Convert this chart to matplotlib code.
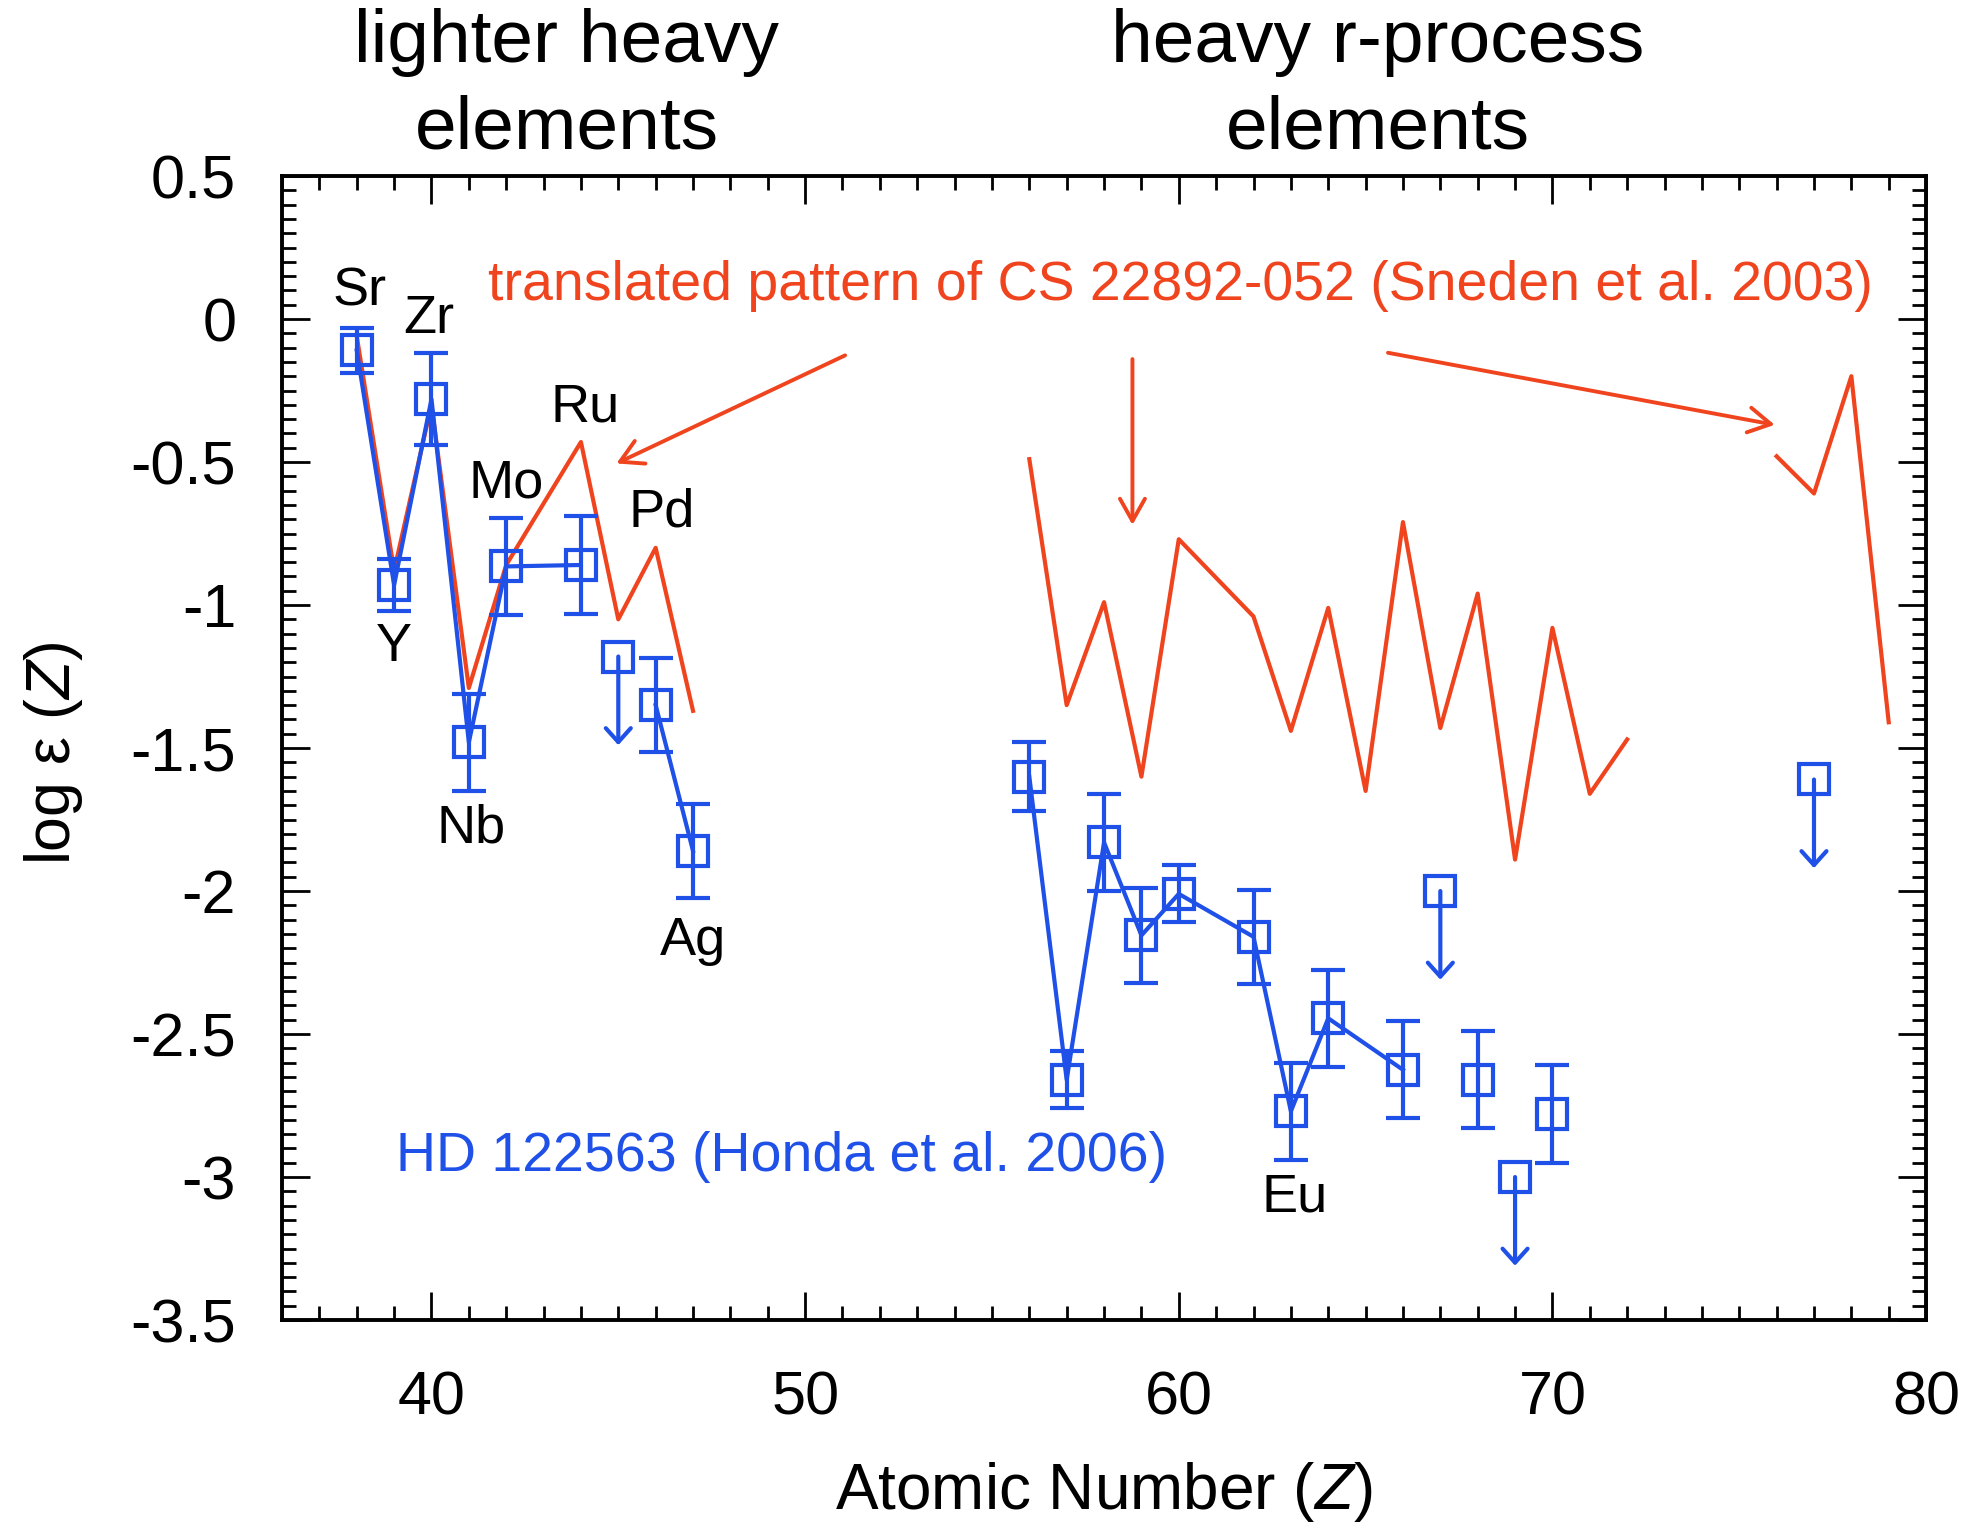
import matplotlib
matplotlib.use('Agg')
import matplotlib.pyplot as plt
from matplotlib.ticker import MultipleLocator

plt.rcParams['font.family'] = ['Liberation Sans', 'DejaVu Sans']
plt.rcParams['mathtext.fontset'] = 'custom'
plt.rcParams['mathtext.rm'] = 'Liberation Sans'
plt.rcParams['mathtext.it'] = 'Liberation Sans:italic'

BLUE = '#1f50e8'
RED = '#f0441f'

# HD 122563 (Honda et al. 2006): measured abundances
hd_z = [38, 39, 40, 41, 42, 44, 46, 47,
        56, 57, 58, 59, 60, 62, 63, 64, 66, 68, 70]
hd_v = [-0.11, -0.93, -0.28, -1.48, -0.865, -0.86, -1.35, -1.86,
        -1.60, -2.66, -1.83, -2.155, -2.01, -2.16, -2.77, -2.445, -2.625, -2.66, -2.78]
hd_err = [0.08, 0.09, 0.16, 0.17, 0.17, 0.17, 0.165, 0.165,
          0.12, 0.10, 0.17, 0.167, 0.10, 0.165, 0.17, 0.17, 0.17, 0.17, 0.17]
# which measured points are joined by the line
hd_groups = [[38, 39, 40, 41, 42, 44], [46, 47], [56, 57, 58, 59, 60, 62, 63, 64, 66]]

# upper limits
ul_z = [45, 67, 69, 77]
ul_v = [-1.18, -2.00, -3.00, -1.61]

# translated pattern of CS 22892-052 (Sneden et al. 2003)
cs_light_z = [38, 39, 40, 41, 42, 44, 45, 46, 47]
cs_light_v = [-0.06, -0.88, -0.30, -1.29, -0.86, -0.43, -1.05, -0.80, -1.37]
cs_heavy_z = [56, 57, 58, 59, 60, 62, 63, 64, 65, 66, 67, 68, 69, 70, 71, 72]
cs_heavy_v = [-0.49, -1.35, -0.99, -1.60, -0.77, -1.04, -1.44, -1.01,
              -1.65, -0.71, -1.43, -0.96, -1.89, -1.08, -1.66, -1.47]
cs_third_z = [76, 77, 78, 79]
cs_third_v = [-0.48, -0.61, -0.20, -1.41]

# element labels
lab_text = ['Sr', 'Y', 'Zr', 'Nb', 'Mo', 'Ru', 'Pd', 'Ag', 'Eu']
lab_z = [38.08, 38.99, 39.93, 41.05, 42.0, 44.1, 46.15, 47.0, 63.1]
lab_v = [0.096, -1.145, 0.0, -1.78, -0.575, -0.31, -0.675, -2.175, -3.07]

fig = plt.figure(figsize=(19.68, 15.28), dpi=100)
ax = fig.add_axes([0.1433, 0.1361, 0.8354, 0.7487])

# red pattern
for zs, vs in [(cs_light_z, cs_light_v), (cs_heavy_z, cs_heavy_v), (cs_third_z, cs_third_v)]:
    ax.plot(zs, vs, color=RED, lw=3.0, zorder=2)

# blue connecting lines
val = dict(zip(hd_z, hd_v))
for g in hd_groups:
    ax.plot(g, [val[z] for z in g], color=BLUE, lw=3.0, zorder=3)

ax.errorbar(hd_z, hd_v, yerr=hd_err, fmt='s', ms=22, mfc='none', mec=BLUE, mew=3.0,
            ecolor=BLUE, elinewidth=3.0, capsize=12, capthick=3.0, zorder=4)

# upper limits
ax.plot(ul_z, ul_v, 's', ms=22, mfc='none', mec=BLUE, mew=3.0, zorder=4)
for z, v in zip(ul_z, ul_v):
    ax.annotate('', xy=(z, v - 0.31), xytext=(z, v),
                arrowprops=dict(arrowstyle='->,head_length=1.0,head_width=0.9',
                                color=BLUE, lw=3.0, shrinkA=0, shrinkB=0), zorder=4)

for t, z, v in zip(lab_text, lab_z, lab_v):
    ax.text(z, v, t, fontsize=39, ha='center', va='center', zorder=5)

ax.text(60.05, 0.114, 'translated pattern of CS 22892-052 (Sneden et al. 2003)',
        color=RED, fontsize=40, ha='center', va='center')
ax.text(49.38, -2.93, 'HD 122563 (Honda et al. 2006)', color=BLUE, fontsize=40,
        ha='center', va='center')

# pointer arrows from the red caption
for (z0, v0), (z1, v1) in [((51.07, -0.127), (44.95, -0.505)),
                           ((58.76, -0.14), (58.76, -0.72)),
                           ((65.6, -0.118), (75.95, -0.37))]:
    ax.annotate('', xy=(z1, v1), xytext=(z0, v0),
                arrowprops=dict(arrowstyle='->,head_length=1.6,head_width=0.9',
                                color=RED, lw=2.8, shrinkA=0, shrinkB=0))

ax.set_xlim(36, 80)
ax.set_ylim(-3.5, 0.5)
ax.xaxis.set_minor_locator(MultipleLocator(1))
ax.yaxis.set_minor_locator(MultipleLocator(0.05))
ax.set_yticks([0.5, 0, -0.5, -1, -1.5, -2, -2.5, -3, -3.5])
ax.set_yticklabels(['0.5', '0', '-0.5', '-1', '-1.5', '-2', '-2.5', '-3', '-3.5'])
ax.set_xticks([40, 50, 60, 70, 80])

ax.tick_params(which='both', direction='in', top=True, right=True, width=2.0)
ax.tick_params(which='major', length=20, labelsize=44)
ax.tick_params(axis='x', which='major', pad=36)
ax.tick_params(axis='y', which='major', pad=33)
ax.tick_params(which='minor', length=10)
for s in ax.spines.values():
    s.set_linewidth(2.8)

ax.set_xlabel(r'Atomic Number ($\mathit{Z}$)', fontsize=46, va='center')
ax.set_ylabel(r'log ε ($\mathit{Z}$)', fontsize=45, va='center')
ax.xaxis.set_label_coords(0.5, -0.150)
ax.yaxis.set_label_coords(-0.139, 0.496)

fig.text(0.288, 0.944, 'lighter heavy\nelements', fontsize=54, ha='center', va='center',
         linespacing=1.32)
fig.text(0.700, 0.944, 'heavy r-process\nelements', fontsize=54, ha='center', va='center',
         linespacing=1.32)

fig.savefig('out.png', dpi=100)
